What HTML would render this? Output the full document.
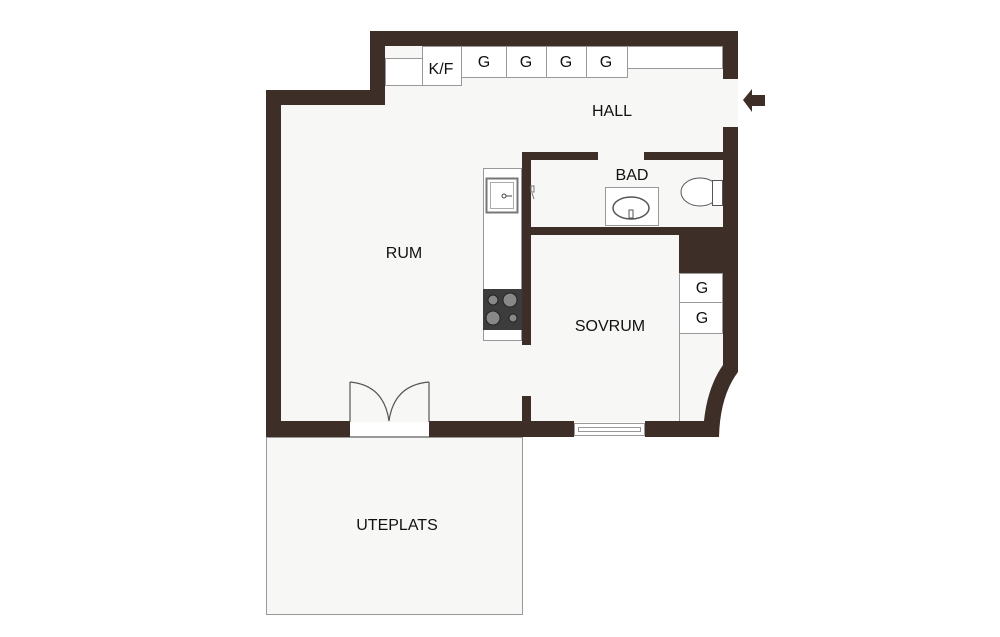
<!DOCTYPE html>
<html><head><meta charset="utf-8"><style>
html,body{margin:0;padding:0;background:#fff;width:1000px;height:637px;overflow:hidden}
text{font-family:"Liberation Sans",sans-serif;fill:#111}
</style></head><body>
<svg width="1000" height="637" viewBox="0 0 1000 637" xmlns="http://www.w3.org/2000/svg">
<rect width="1000" height="637" fill="#fff"/>
<!-- floor -->
<path d="M281,104 L385,104 L385,46 L723,46 L723,370 Q712,395 708,422 L281,422 Z" fill="#f7f7f5"/>
<rect x="720" y="79" width="18" height="48" fill="#f7f7f5"/>
<!-- uteplats -->
<rect x="266.5" y="437.5" width="256" height="177" fill="#f7f7f5" stroke="#999" stroke-width="1"/>
<g fill="#3d2f28">
<rect x="370" y="31" width="368" height="15"/>
<rect x="370" y="31" width="15" height="74"/>
<rect x="266" y="90" width="119" height="15"/>
<rect x="266" y="90" width="15" height="347"/>
<rect x="723" y="31" width="15" height="48"/>
<path d="M723,127 L738,127 L738,372 Q720,396 719,437 L703,437 Q704,392 723,365 Z"/>
<rect x="266" y="421" width="84" height="16"/>
<rect x="429" y="421" width="145" height="16"/>
<rect x="645" y="421" width="74" height="16"/>
<rect x="522" y="152" width="76" height="8"/>
<rect x="644" y="152" width="79" height="8"/>
<rect x="522" y="152" width="9" height="193"/>
<rect x="522" y="396" width="9" height="26"/>
<rect x="522" y="227" width="201" height="8"/>
<rect x="679" y="227" width="44" height="46"/>
<path d="M743,100 L752,89 L752,95 L765,95 L765,106 L752,106 L752,112 Z"/>
</g>
<g fill="#fff" stroke="#999" stroke-width="1">
<rect x="385.5" y="58.5" width="37" height="27"/>
<rect x="422.5" y="46.5" width="39" height="39"/>
<rect x="461.5" y="46.5" width="45" height="31"/>
<rect x="506.5" y="46.5" width="40" height="31"/>
<rect x="546.5" y="46.5" width="40" height="31"/>
<rect x="586.5" y="46.5" width="41" height="31"/>
<rect x="627.5" y="46.5" width="95" height="22"/>
<rect x="483.5" y="168.5" width="38" height="172"/>
<rect x="605.5" y="187.5" width="53" height="38"/>
<rect x="679.5" y="273.5" width="43" height="29"/>
<rect x="679.5" y="302.5" width="43" height="31"/>
</g>
<line x1="679.5" y1="333" x2="679.5" y2="421" stroke="#999"/>
<rect x="574.5" y="423.5" width="70" height="12" fill="#fff" stroke="#999"/>
<rect x="578.5" y="427.5" width="62" height="4" fill="none" stroke="#999"/>
<rect x="486.5" y="178.5" width="31" height="34" fill="#fff" stroke="#777" stroke-width="2"/>
<rect x="490.5" y="182.5" width="23" height="26" fill="#fff" stroke="#aaa"/>
<circle cx="504" cy="196" r="2" fill="none" stroke="#444"/>
<line x1="506" y1="196" x2="512" y2="196" stroke="#444"/>
<path d="M531,186 l3,0 l0,6 l-3,0 z M532,193 l2,6" fill="none" stroke="#777"/>
<rect x="483" y="289" width="39" height="41" fill="#3c3c3c"/>
<g fill="#888" stroke="#222">
<circle cx="493" cy="300" r="5"/><circle cx="510" cy="300" r="7"/>
<circle cx="493" cy="318" r="7"/><circle cx="513" cy="318" r="4"/>
</g>
<ellipse cx="631" cy="208" rx="18" ry="11" fill="#fff" stroke="#555" stroke-width="1.5"/>
<rect x="629" y="210" width="4" height="8" fill="#fff" stroke="#555"/>
<ellipse cx="700" cy="192" rx="19" ry="14" fill="#fff" stroke="#555"/>
<rect x="712.5" y="180.5" width="10" height="25" fill="#fff" stroke="#555"/>
<g fill="none" stroke="#555" stroke-width="1.2">
<line x1="350" y1="382" x2="350" y2="422"/>
<line x1="429" y1="382" x2="429" y2="422"/>
<path d="M350,382 Q384,385 389,421"/>
<path d="M429,382 Q394,385 389,421"/>
</g>
<line x1="350" y1="436.5" x2="429" y2="436.5" stroke="#999"/>
<g font-size="16" text-anchor="middle">
<text x="441" y="74">K/F</text>
<text x="484" y="67">G</text>
<text x="526" y="67">G</text>
<text x="566" y="67">G</text>
<text x="606" y="67">G</text>
<text x="612" y="116">HALL</text>
<text x="632" y="180">BAD</text>
<text x="404" y="258">RUM</text>
<text x="610" y="331">SOVRUM</text>
<text x="397" y="530">UTEPLATS</text>
<text x="702" y="293">G</text>
<text x="702" y="323">G</text>
</g>
</svg>
</body></html>
